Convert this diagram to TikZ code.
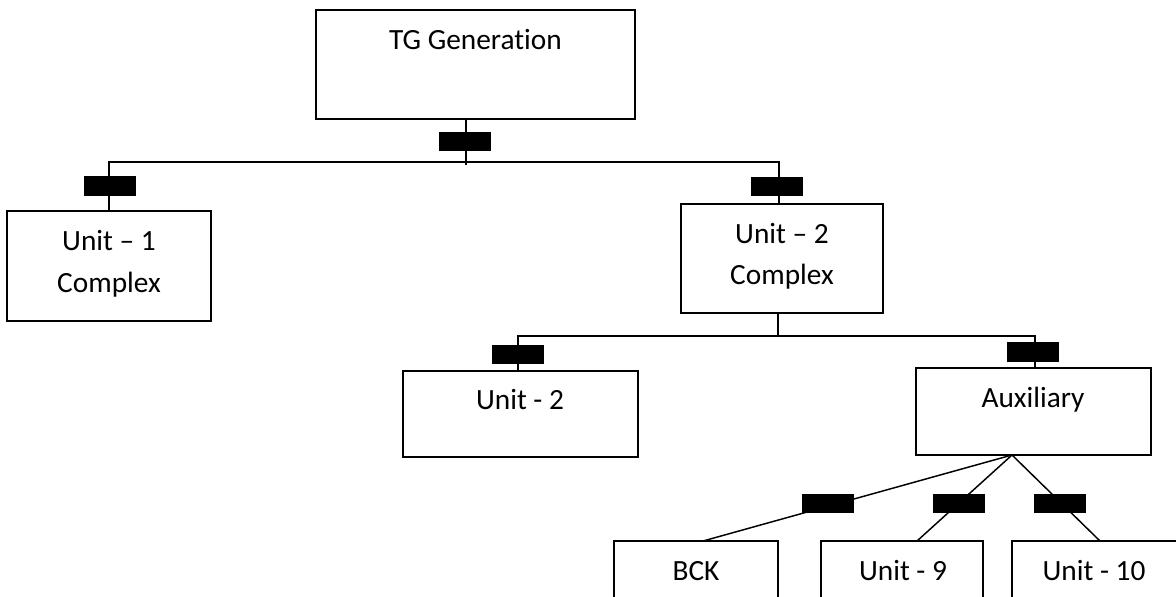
\documentclass[tikz,border=0pt]{standalone}
\usepackage{fontspec}
\setmainfont{Carlito}[Ligatures=NoCommon]
\usetikzlibrary{fit}
\tikzset{
  box/.style={draw=black, line width=1.4pt, inner sep=0pt, fill=white},
  lbl/.style={anchor=base, inner sep=0pt, font=\fontsize{22}{30.75}\selectfont, align=center},
  conn/.style={draw=black, line width=1.1pt},
  tab/.style={fill=black, draw=none, inner sep=0pt, minimum width=39pt, minimum height=14.5pt}
}
\begin{document}
\begin{tikzpicture}[x=0.75pt,y=-0.75pt]
\clip (0,0) rectangle (1176,596);
\fill[white] (0,0) rectangle (1176,596);

% boxes
\node[box, fit={(316,10) (635,119)}] (tg) {};
\node[box, fit={(7,211) (211,321)}] (u1c) {};
\node[box, fit={(681,204) (883,313)}] (u2c) {};
\node[box, fit={(403,371) (638,457)}] (u2) {};
\node[box, fit={(916,368) (1151,455)}] (aux) {};
\node[box, fit={(614,541) (778,640)}] (bck) {};
\node[box, fit={(821,541) (983,640)}] (u9) {};
\node[box, fit={(1012,541) (1200,640)}] (u10) {};

% texts
\node[lbl] (tgt) at (475.5,49) {TG Generation};
\node[lbl] (u1ta) at (109,250) {Unit – 1};
\node[lbl] (u1tb) at (109,292) {Complex};
\node[lbl] (u2cta) at (782,243) {Unit – 2};
\node[lbl] (u2ctb) at (782,284) {Complex};
\node[lbl] (u2t) at (520,409) {Unit - 2};
\node[lbl] (auxt) at (1033,407) {Auxiliary};
\node[lbl] (bckt) at (696,580) {BCK};
\node[lbl] (u9t) at (903,580) {Unit - 9};
\node[lbl] (u10t) at (1094,580) {Unit - 10};

% junction coordinates
\coordinate (j0) at (466,162);
\coordinate (j0e) at (466,165);
\coordinate (j1) at (109,162);
\coordinate (j2) at (779,162);
\coordinate (k0) at (778,336);
\coordinate (k1) at (518,336);
\coordinate (k2) at (1035,336);
\coordinate (apex) at (1012,455);
\coordinate (bckin) at (703,541);
\coordinate (u9in) at (917,541);
\coordinate (u10in) at (1100,541);

% connectors
\draw[conn] (tg.south -| j0) -- (j0e);
\draw[conn] (u1c.north -| j1) -- (j1) -- (j2) -- (u2c.north -| j2);
\draw[conn] (u2c.south -| k0) -- (k0);
\draw[conn] (u2.north -| k1) -- (k1) -- (k2) -- (aux.north -| k2);
\draw[conn] (apex) -- (bckin);
\draw[conn] (apex) -- (u9in);
\draw[conn] (apex) -- (u10in);

% tabs
\node[tab] (t0) at (465,141.5) {};
\node[tab] (t1) at (109.5,186) {};
\node[tab] (t2) at (777,186.5) {};
\node[tab] (t3) at (518,354.5) {};
\node[tab] (t4) at (1033,352) {};
\node[tab] (t5) at (828,503.5) {};
\node[tab] (t6) at (959,503.5) {};
\node[tab] (t7) at (1060,503.5) {};
\end{tikzpicture}
\end{document}
